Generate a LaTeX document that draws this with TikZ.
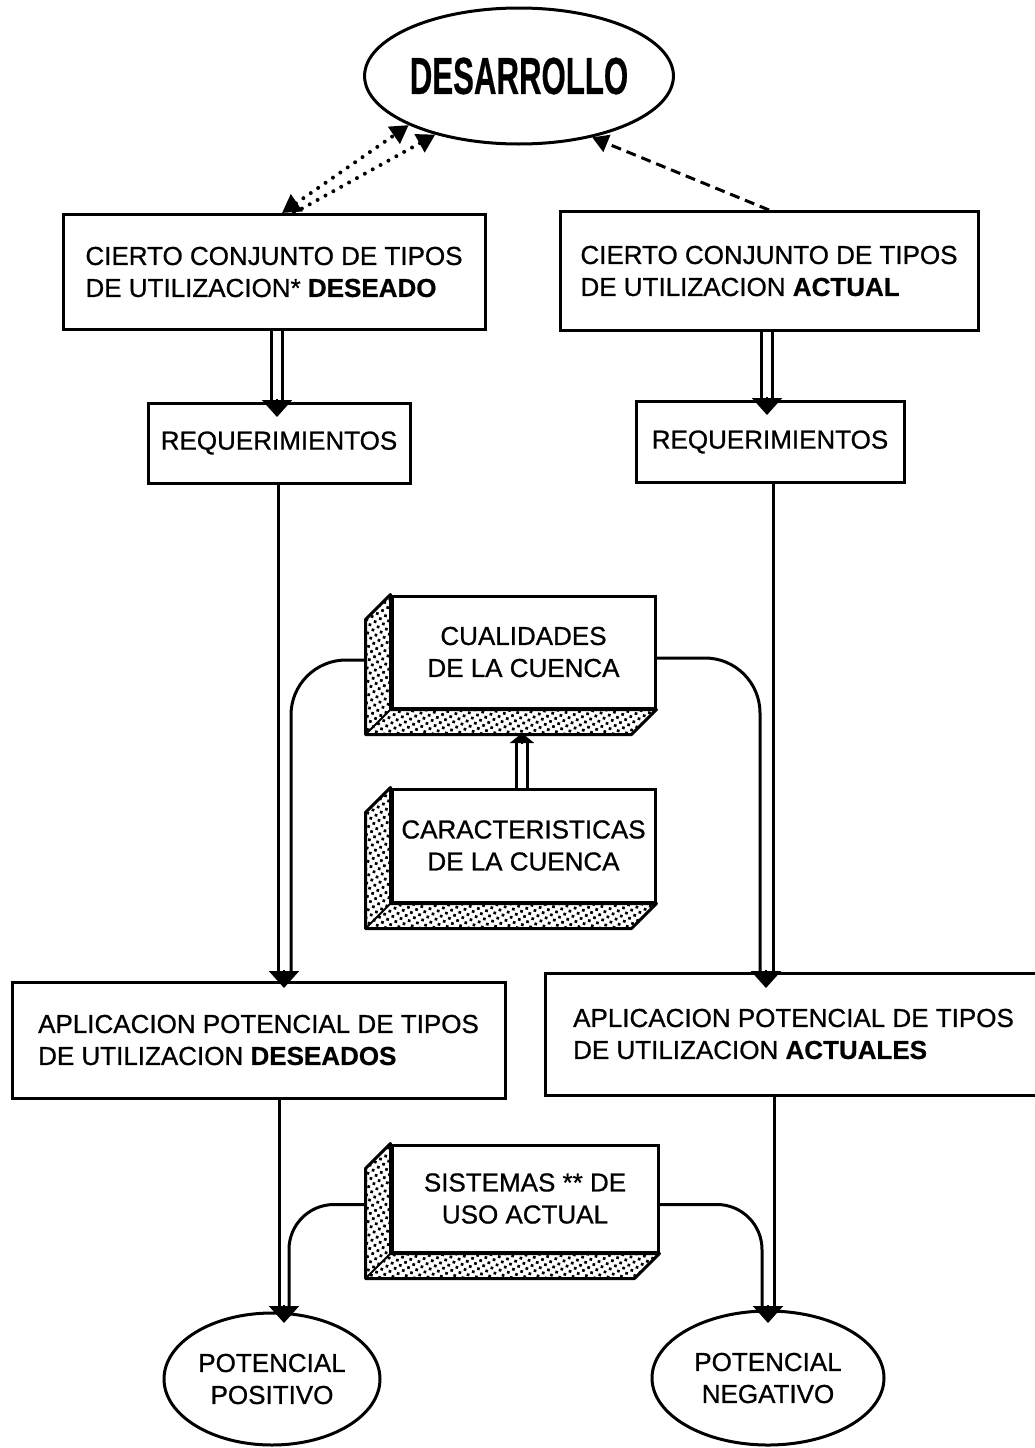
\documentclass[tikz,border=0pt]{standalone}
\usepackage{fontspec}
\setmainfont{Liberation Sans}[UprightFeatures={FakeBold=0.8},BoldFeatures={FakeBold=0.6}]
\usetikzlibrary{arrows.meta,patterns.meta,calc,shapes.geometric}
\begin{document}
\begin{tikzpicture}[x=1pt,y=-1pt,
  box/.style={draw, line width=3pt, fill=white, inner sep=0pt, font=\fontsize{26}{32}\selectfont, align=left},
  ell/.style={draw, ellipse, line width=3pt, inner sep=0pt, font=\fontsize{26}{32}\selectfont, align=center},
  conn/.style={line width=3pt},
  dbl/.style={line width=3pt, double distance=8pt},
  tipd/.style={-{Triangle[length=17pt,width=30pt]}, line width=2pt},
  tips/.style={-{Triangle[length=10pt,width=24pt]}, line width=2pt},
  dotl/.style={line width=4pt, line cap=round, dash pattern=on 0pt off 9pt},
  dots3d/.style={pattern={Dots[distance=6pt,radius=1.9pt,angle=30]}, draw, line width=3pt, line join=round}
]
\useasboundingbox (0,0) rectangle (1034,1448);
\newcommand\threed[1]{%
  \draw[dots3d] (#1.north west) -- ++(-25,25) -- ($(#1.south west)+(-25,25)$) -- ($(#1.south east)+(-25,25)$) -- (#1.south east) -- (#1.south west) -- cycle;
  \draw[line width=2pt] (#1.south west) -- ++(-25,25);}

% nodes
\node[ell, minimum width=234pt, minimum height=136pt] (des) at (519,76)
  {\scalebox{0.6}[1]{\fontsize{52}{52}\selectfont\bfseries DESARROLLO}};
\node[box, minimum width=422pt, minimum height=115pt] (b1) at (274,272)
  {CIERTO CONJUNTO DE TIPOS\\DE UTILIZACION* \textbf{DESEADO}};
\node[box, minimum width=418pt, minimum height=119pt] (b2) at (769,271)
  {CIERTO CONJUNTO DE TIPOS\\DE UTILIZACION \textbf{ACTUAL}};
\node[box, minimum width=262pt, minimum height=80pt] (r1) at (279,443) {REQUERIMIENTOS};
\node[box, minimum width=268pt, minimum height=81pt] (r2) at (770,442) {REQUERIMIENTOS};

\node[box, align=center, minimum width=263pt, minimum height=112pt] (cu) at (523.5,652) {CUALIDADES\\DE LA CUENCA};
\threed{cu}
\node[box, align=center, minimum width=263pt, minimum height=113pt] (ca) at (523.5,845.5) {CARACTERISTICAS\\DE LA CUENCA};
\threed{ca}

\node[box, minimum width=493pt, minimum height=116pt] (ap1) at (258.5,1040)
  {APLICACION POTENCIAL DE TIPOS\\DE UTILIZACION \textbf{DESEADOS}};
\node[box, minimum width=497pt, minimum height=122pt] (ap2) at (793.5,1034)
  {APLICACION POTENCIAL DE TIPOS\\DE UTILIZACION \textbf{ACTUALES}};

\node[box, align=center, minimum width=266pt, minimum height=107pt] (si) at (525,1198.5) {SISTEMAS ** DE\\USO ACTUAL};
\threed{si}

\node[ell, minimum width=216pt, minimum height=132pt] (pos) at (272,1379) {POTENCIAL\\POSITIVO};
\node[ell, minimum width=232pt, minimum height=134pt] (neg) at (768,1378) {POTENCIAL\\NEGATIVO};

% top connectors
\draw[line width=3pt, dash pattern=on 10pt off 6pt, -{Triangle[length=16pt,width=18pt]}] (b2.north) -- (des.-40);
\draw[dotl, {Triangle[length=18pt,width=20pt]}-{Triangle[length=18pt,width=20pt]}] ([xshift=8pt]b1.north) -- (des.-156);
\draw[dotl, -{Triangle[length=18pt,width=20pt]}] ([xshift=20pt]b1.north) -- (des.-145);

% double arrows to requirements
\coordinate (t1) at (277,417);
\coordinate (t2) at (767,415);
\draw[dbl] (b1.south -| t1) -- ([yshift=16pt]t1);
\draw[tipd] ([yshift=18pt]t1) -- (t1);
\draw[dbl] (b2.south -| t2) -- ([yshift=16pt]t2);
\draw[tipd] ([yshift=18pt]t2) -- (t2);

% characteristics -> qualities
\coordinate (t3) at (522,733);
\draw[dbl] (ca.north -| t3) -- ([yshift=-8pt]t3);
\draw[tips] ([yshift=-10pt]t3) -- (t3);

% long connectors to aplicacion
\coordinate (t4) at (284,988);
\coordinate (t5) at (766,988);
\draw[conn] (r1.south -| 278,0) -- (278,975);
\draw[conn, rounded corners=55pt] ($(cu.west)+(-25,8)$) -| (291,975);
\draw[tipd] ([yshift=18pt]t4) -- (t4);
\draw[conn] (r2.south -| 773,0) -- (773,975);
\draw[conn, rounded corners=55pt] ($(cu.east)+(0,6)$) -| (760,975);
\draw[tipd] ([yshift=18pt]t5) -- (t5);

% bottom connectors to potencial
\coordinate (t6) at (284,1323);
\coordinate (t7) at (768,1323);
\draw[conn] (ap1.south -| 279,0) -- (279,1308);
\draw[conn, rounded corners=45pt] ($(si.west)+(-25,6)$) -| (289,1308);
\draw[tipd] ([yshift=18pt]t6) -- (t6);
\draw[conn] (ap2.south -| 774,0) -- (774,1308);
\draw[conn, rounded corners=45pt] ($(si.east)+(0,6)$) -| (762,1308);
\draw[tipd] ([yshift=18pt]t7) -- (t7);
\end{tikzpicture}
\end{document}
